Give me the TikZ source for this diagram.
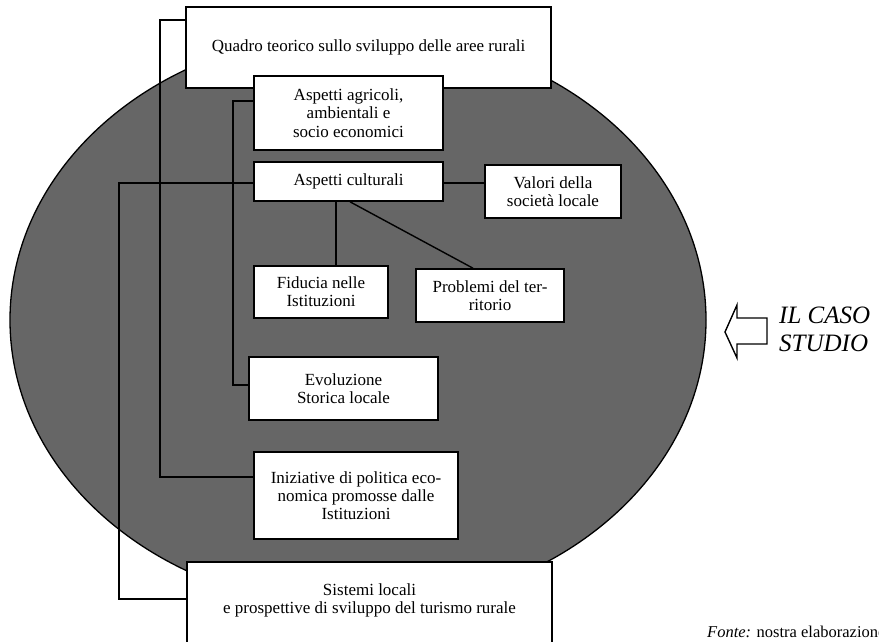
\documentclass[tikz,border=0pt]{standalone}
\usepackage{fontspec}
\setmainfont{Liberation Serif}
\begin{document}
\begin{tikzpicture}[x=1pt,y=-1pt,
    riquadro/.style={draw, fill=white, line width=1.6pt, align=center, inner sep=0pt,
      font=\fontsize{17}{18.2}\selectfont},
    linea/.style={line width=1.4pt}]
  \useasboundingbox (0,0) rectangle (879,641);
  \fill[black!60] (358,320) ellipse (348pt and 288pt);
  \draw[line width=1.3pt] (358,320) ellipse (348pt and 288pt);

  \node[riquadro, minimum width=365, minimum height=81] (quadro) at (368.5,47.5) {Quadro teorico sullo sviluppo delle aree rurali};
  \node[riquadro, minimum width=189, minimum height=74] (agricoli) at (348.5,113) {Aspetti agricoli,\\ambientali e\\socio economici};
  \node[riquadro, minimum width=189, minimum height=39] (culturali) at (348.5,181.5) {Aspetti culturali};
  \node[riquadro, minimum width=136, minimum height=53] (valori) at (553,191.5) {Valori della\\società locale};
  \node[riquadro, minimum width=134, minimum height=52] (fiducia) at (321,292) {Fiducia nelle\\Istituzioni};
  \node[riquadro, minimum width=148, minimum height=53] (problemi) at (490,295.5) {Problemi del ter-\\ritorio};
  \node[riquadro, minimum width=189, minimum height=63] (evoluzione) at (343.5,388.5) {Evoluzione\\Storica locale};
  \node[riquadro, minimum width=204, minimum height=87] (iniziative) at (356,495.5) {Iniziative di politica eco-\\nomica promosse dalle\\Istituzioni};
  \node[riquadro, minimum width=365, minimum height=110, anchor=north,
    label={[anchor=north, yshift=-22pt, align=center, inner sep=0pt, font=\fontsize{17}{18.2}\selectfont]north:Sistemi locali\\e prospettive di sviluppo del turismo rurale}] (sistemi) at (369.5,561) {};

  \draw[linea] (quadro.west |- 0,20) -| (160,477) -- (iniziative.west |- 0,477);
  \draw[linea] (agricoli.west |- 0,101) -| (233,385) -- (evoluzione.west |- 0,385);
  \draw[linea] (culturali.west |- 0,183) -| (119,599) -- (sistemi.west |- 0,599);
  \draw[linea] (culturali.east |- 0,183) -- (valori.west |- 0,183);
  \draw[linea] (culturali.south -| 336,0) -- (fiducia.north -| 336,0);
  \draw[linea] (culturali.south -| 350,0) -- (problemi.north -| 473,0);

  \draw[line width=1.4pt, fill=white] (725,332) -- (737,305) -- (737,318) -- (767,318)
    -- (767,344) -- (737,344) -- (737,358) -- cycle;
  \node[anchor=west, align=left, inner sep=0pt, font=\fontsize{25}{28}\selectfont\itshape] (caso) at (779,329) {IL CASO\\STUDIO};
  \node[anchor=base west, inner sep=0pt, font=\fontsize{16.5}{18}\selectfont] (fonte) at (707,637) {\textit{Fonte:} nostra elaborazione};
\end{tikzpicture}
\end{document}
